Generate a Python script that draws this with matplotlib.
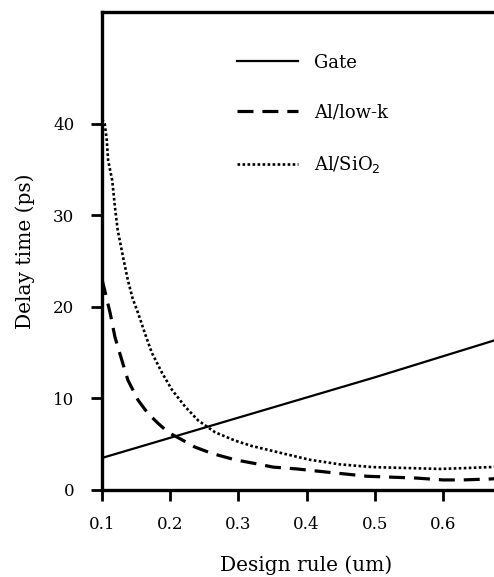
import matplotlib
matplotlib.use("Agg")
import matplotlib.pyplot as plt

plt.rcParams['font.family'] = ['DejaVu Serif']

gate_x = [0.1, 0.3, 0.5, 0.7]
gate_y = [3.5, 7.9, 12.3, 16.9]

lowk_x = [0.1, 0.104, 0.112, 0.119, 0.129, 0.138, 0.153, 0.167, 0.182, 0.197,
          0.217, 0.236, 0.261, 0.295, 0.324, 0.351, 0.386, 0.424, 0.489, 0.562,
          0.6, 0.629, 0.669, 0.69]
lowk_y = [23.0, 21.8, 19.3, 16.7, 14.2, 12.0, 9.8, 8.4, 7.3, 6.3,
          5.5, 4.7, 4.0, 3.3, 2.9, 2.5, 2.3, 2.0, 1.5, 1.3,
          1.1, 1.1, 1.2, 1.3]

sio2_x = [0.1, 0.104, 0.107, 0.109, 0.115, 0.119, 0.123, 0.131, 0.138, 0.145,
          0.153, 0.163, 0.173, 0.188, 0.203, 0.222, 0.241, 0.266, 0.295, 0.32,
          0.365, 0.405, 0.449, 0.497, 0.547, 0.596, 0.635, 0.669, 0.69]
sio2_y = [40.5, 40.0, 38.2, 36.0, 33.8, 30.9, 28.4, 25.4, 22.9, 20.9,
          19.3, 17.1, 15.0, 12.8, 10.9, 9.1, 7.6, 6.3, 5.4, 4.8,
          4.0, 3.3, 2.8, 2.5, 2.4, 2.3, 2.4, 2.5, 2.6]

labels = ['Gate', 'Al/low-k', 'Al/SiO$_2$']
xticks = [0.1, 0.2, 0.3, 0.4, 0.5, 0.6]
yticks = [0, 10, 20, 30, 40]

fig = plt.figure(figsize=(4.94, 5.77), dpi=100)
ax = fig.add_axes([102/494, 87/577, 409/494, 478/577])

ax.plot(gate_x, gate_y, color='black', lw=1.6, label=labels[0])
ax.plot(lowk_x, lowk_y, color='black', lw=2.3, dashes=(5, 2.8), label=labels[1])
ax.plot(sio2_x, sio2_y, color='black', lw=1.9, dashes=(1.0, 0.9), label=labels[2])

ax.set_xlim(0.1, 0.7)
ax.set_ylim(0, 52.2)
ax.set_xticks(xticks)
ax.set_xticklabels([f'{v:.1f}' for v in xticks])
ax.set_yticks(yticks)
for s in ax.spines.values():
    s.set_linewidth(2.4)
ax.tick_params(axis='both', direction='out', length=8, width=2, labelsize=12)
ax.tick_params(axis='x', pad=11)
ax.tick_params(axis='y', pad=12)

ax.set_xlabel('Design rule (um)', fontsize=14.5, labelpad=16)
ax.set_ylabel('Delay time (ps)', fontsize=14.5, labelpad=13)

leg = ax.legend(loc='upper left', bbox_to_anchor=(0.29, 0.947), frameon=False,
                fontsize=13, handlelength=3.4, handletextpad=0.9, labelspacing=1.78)

fig.savefig('out.png', dpi=100)
